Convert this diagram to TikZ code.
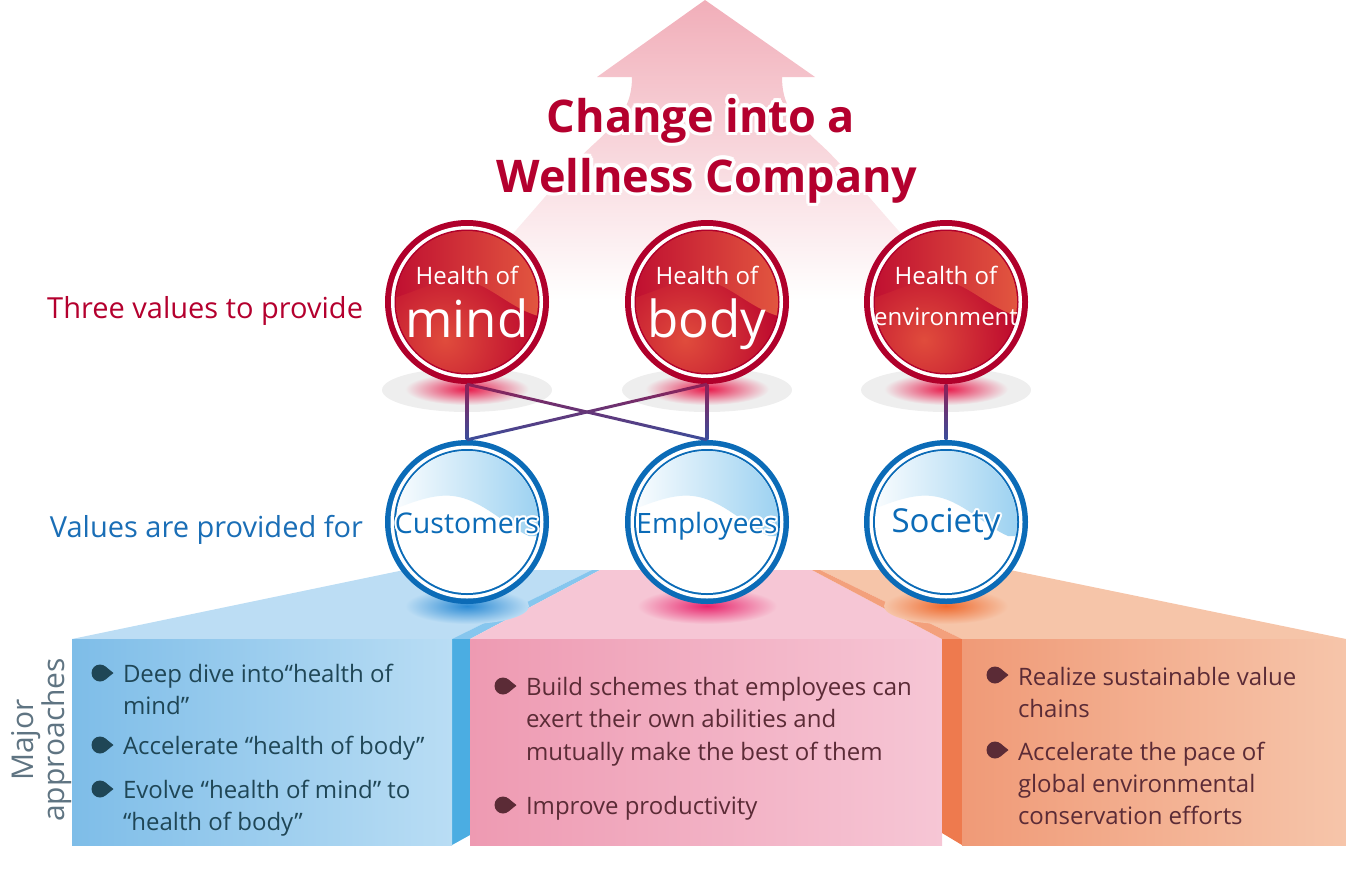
\documentclass[tikz,border=0pt]{standalone}
\usepackage{fontspec}
\setmainfont{Open Sans}
\usetikzlibrary{calc}
\definecolor{crim}{HTML}{B4002E}
\definecolor{ringred}{HTML}{B0002B}
\definecolor{ballred}{HTML}{B8002C}
\definecolor{ballhi}{HTML}{E04C3C}
\definecolor{swl}{HTML}{BE0C30}
\definecolor{swr}{HTML}{E45A40}
\definecolor{ringblue}{HTML}{0B6BB7}
\definecolor{labblue}{HTML}{1A6EB6}
\definecolor{swblue}{HTML}{97CFF0}
\definecolor{arrowtop}{HTML}{F1AEB9}
\definecolor{arrowmid}{HTML}{F5CCD3}
\definecolor{shadowgray}{HTML}{EEEEEE}
\definecolor{glowred}{HTML}{E8194A}
\definecolor{conntop}{HTML}{8E1F55}
\definecolor{connbot}{HTML}{3A4E9C}
\definecolor{bluefrontL}{HTML}{7EBDE8}
\definecolor{bluefrontR}{HTML}{B9DDF4}
\definecolor{bluetop}{HTML}{BCDDF4}
\definecolor{blueside}{HTML}{4BADE2}
\definecolor{blueband}{HTML}{86C6EE}
\definecolor{pinkfrontL}{HTML}{EE9AB2}
\definecolor{pinkfrontR}{HTML}{F6C6D5}
\definecolor{pinktop}{HTML}{F6C6D5}
\definecolor{orfrontL}{HTML}{F09A77}
\definecolor{orfrontR}{HTML}{F6C5AA}
\definecolor{ortop}{HTML}{F6C5A9}
\definecolor{orside}{HTML}{EE7A4E}
\definecolor{orband}{HTML}{F3A07C}
\definecolor{glowblue}{HTML}{2A8AD4}
\definecolor{glowpink}{HTML}{E8246C}
\definecolor{gloworange}{HTML}{EE6A2E}
\definecolor{txtblue}{HTML}{1F4656}
\definecolor{txtmaroon}{HTML}{5B2B36}
\definecolor{majgray}{HTML}{5F7482}

% white outline round a text: white copies set at small offsets behind it
\newcommand{\haloed}[3]{%
  \foreach \hang in {0,30,...,330}{%
    \pgfmathsetlengthmacro{\hdx}{#1*cos(\hang)}%
    \pgfmathsetlengthmacro{\hdy}{#1*sin(\hang)}%
    \rlap{\kern\hdx\raisebox{\hdy}{\textcolor{#2}{#3}}}%
  }%
  #3}

\newcommand{\redball}[2]{%
\begin{scope}[shift={(#1,#2)}]
  \fill[ringred] (0,0) circle[radius=82];
  \fill[white] (0,0) circle[radius=76];
  \fill[ringred] (0,0) circle[radius=72.5];
  \begin{scope}
    \clip (0,0) circle[radius=71];
    \shade[inner color=ballhi, outer color=ballred] (-22,38) circle[radius=105];
    \shade[left color=swl, right color=swr] (-80,-80) -- (-80,-2)
      .. controls (-45,-12) and (-25,-26) .. (-4,-22)
      .. controls (25,-18) and (45,10) .. (80,16) -- (80,-80) -- cycle;
  \end{scope}
\end{scope}}

\newcommand{\blueball}[2]{%
\begin{scope}[shift={(#1,#2)}]
  \fill[ringblue] (0,0) circle[radius=82];
  \fill[white] (0,0) circle[radius=76.5];
  \fill[ringblue] (0,0) circle[radius=73];
  \fill[white] (0,0) circle[radius=71];
  \begin{scope}
    \clip (0,0) circle[radius=71];
    \shade[left color=white, right color=swblue] (-80,-80) -- (-80,-10)
      .. controls (-50,-22) and (-32,-28) .. (-14,-26)
      .. controls (15,-23) and (40,5) .. (62,14)
      -- (80,14) -- (80,-80) -- cycle;
  \end{scope}
\end{scope}}

\newcommand{\dropbul}[3]{%
  \fill[#3] (#1,#2) circle[radius=8.5];
  \fill[#3] (#1+5.4,#2-6.55) -- (#1+13.5,#2) -- (#1+5.4,#2+6.55) -- cycle;}

% connector from node anchor #1 to node anchor #2, shaded from top to bottom
\newcommand{\gradconn}[2]{%
  \shade[top color=conntop, bottom color=connbot]
    ($(#1)!1.5pt!90:(#2)$) -- ($(#2)!1.5pt!-90:(#1)$) --
    ($(#2)!1.5pt!90:(#1)$) -- ($(#1)!1.5pt!-90:(#2)$) -- cycle;}

\tikzset{
  tx/.style={inner sep=0pt, outer sep=0pt},
  titletxt/.style={tx, font=\fontsize{45}{50}\selectfont\bfseries, text=crim, anchor=base},
  lab/.style={tx, font=\fontsize{29}{32}\selectfont, anchor=base east},
  hoftxt/.style={tx, font=\fontsize{24}{26}\selectfont, text=white, anchor=base},
  bigtxt/.style={tx, font=\fontsize{51}{54}\selectfont, text=white, anchor=base},
  envtxt/.style={tx, font=\fontsize{24}{28}\selectfont, text=white, anchor=base},
  bluetxt/.style={tx, text=ringblue, anchor=base},
  body/.style={tx, font=\fontsize{24}{30}\selectfont, anchor=base west},
  ball/.style={circle, minimum size=164pt, inner sep=0pt, draw=none},
}

\begin{document}
\begin{tikzpicture}[x=1pt,y=-1pt]
\useasboundingbox (0,0) rectangle (1346,871);

% big arrow
\shade[top color=arrowtop, middle color=arrowmid, bottom color=white]
  (705,0) -- (815,77) -- (782,77)
  .. controls (782,105) and (794,120) .. (819,143)
  .. controls (844,165) and (874,205) .. (934,270)
  -- (934,300) -- (480,300) -- (480,270)
  .. controls (540,205) and (570,165) .. (595,143)
  .. controls (620,120) and (632,105) .. (632,77)
  -- (597,77) -- cycle;

% title
\node[titletxt] (t1) at (701,132) {\haloed{3.5pt}{white}{Change into a}};
\node[titletxt] (t2) at (707,192) {\haloed{3.5pt}{white}{Wellness Company}};

% left labels
\node[lab, text=crim] (lab1) at (363,318) {Three values to provide};
\node[lab, text=labblue] (lab2) at (363,537) {Values are provided for};

% shadows under red balls
\foreach \xx in {467,707,946}{
  \fill[shadowgray] (\xx,390) ellipse[x radius=85, y radius=22];
  \shade[inner color=glowred, outer color=shadowgray] (\xx,389) ellipse[x radius=62, y radius=16];
}

% panels
% blue
\fill[bluetop] (72,639) -- (404,570) -- (592,570) -- (452,639) -- cycle;
\fill[blueband] (452,639) -- (592,570) -- (600,570) -- (470,639) -- cycle;
\fill[blueside] (452,639) -- (470,639) -- (470,835) -- (452,845) -- cycle;
\shade[left color=bluefrontL, right color=bluefrontR] (72,639) rectangle (452,845);
% pink
\fill[pinktop] (470,639) -- (600,570) -- (812,570) -- (942,639) -- cycle;
\shade[left color=pinkfrontL, right color=pinkfrontR] (470,639) rectangle (942,845);
% orange
\fill[ortop] (962,639) -- (820,570) -- (1010,570) -- (1346,639) -- cycle;
\fill[orband] (942,639) -- (812,570) -- (820,570) -- (962,639) -- cycle;
\fill[orside] (942,639) -- (962,639) -- (962,845) -- (942,833) -- cycle;
\shade[left color=orfrontL, right color=orfrontR] (962,639) rectangle (1346,845);

% glows under blue balls
\shade[inner color=glowblue, outer color=bluetop] (467,606) ellipse[x radius=62, y radius=18];
\shade[inner color=glowpink, outer color=pinktop] (707,606) ellipse[x radius=70, y radius=18];
\shade[inner color=gloworange, outer color=ortop] (946,606) ellipse[x radius=62, y radius=18];

% balls
\redball{467}{302}
\redball{707}{302}
\redball{946}{302}
\blueball{467}{522}
\blueball{707}{522}
\blueball{946}{522}

\node[ball] (mind) at (467,302) {};
\node[ball] (body) at (707,302) {};
\node[ball] (env) at (946,302) {};
\node[ball] (cust) at (467,522) {};
\node[ball] (empl) at (707,522) {};
\node[ball] (soc) at (946,522) {};

% connectors
\gradconn{mind.south}{cust.north}
\gradconn{mind.south}{empl.north}
\gradconn{body.south}{cust.north}
\gradconn{body.south}{empl.north}
\gradconn{env.south}{soc.north}

% ball texts
\node[hoftxt] (mindA) at (467,284) {Health of};
\node[bigtxt] (mindB) at (467,337) {mind};
\node[hoftxt] (bodyA) at (707,284) {Health of};
\node[bigtxt] (bodyB) at (707,337) {body};
\node[hoftxt] (envA) at (946,284) {Health of};
\node[envtxt] (envB) at (946,325) {environment};

\node[bluetxt, font=\fontsize{28.5}{32}\selectfont] (custT) at (467,533) {\haloed{2pt}{white}{Customers}};
\node[bluetxt, font=\fontsize{28}{32}\selectfont] (emplT) at (707,533) {\haloed{2pt}{white}{Employees}};
\node[bluetxt, font=\fontsize{33}{36}\selectfont] (socT) at (946,532) {\haloed{2pt}{white}{Society}};

% Major approaches
\node[tx, rotate=90, align=center, text=majgray, font=\fontsize{30}{25}\selectfont] (maj) at (42,740) {Major\\approaches};

% blue panel text
\dropbul{100}{673}{txtblue}
\dropbul{100}{745}{txtblue}
\dropbul{100}{789}{txtblue}
\node[body, text=txtblue] (c1a) at (123,682) {Deep dive into“health of};
\node[body, text=txtblue] (c1b) at (123,714) {mind”};
\node[body, text=txtblue] (c2) at (123,754) {Accelerate “health of body”};
\node[body, text=txtblue] (c3a) at (123,798) {Evolve “health of mind” to};
\node[body, text=txtblue] (c3b) at (123,830) {“health of body”};

% pink panel text
\dropbul{503}{686}{txtmaroon}
\dropbul{503}{805}{txtmaroon}
\node[body, text=txtmaroon] (e1a) at (526,695) {Build schemes that employees can};
\node[body, text=txtmaroon] (e1b) at (526,727) {exert their own abilities and};
\node[body, text=txtmaroon] (e1c) at (526,760) {mutually make the best of them};
\node[body, text=txtmaroon] (e2) at (526,814) {Improve productivity};

% orange panel text
\dropbul{995}{675}{txtmaroon}
\dropbul{995}{750}{txtmaroon}
\node[body, text=txtmaroon] (s1a) at (1018,685) {Realize sustainable value};
\node[body, text=txtmaroon] (s1b) at (1018,717) {chains};
\node[body, text=txtmaroon] (s2a) at (1018,760) {Accelerate the pace of};
\node[body, text=txtmaroon] (s2b) at (1018,792) {global environmental};
\node[body, text=txtmaroon] (s2c) at (1018,824) {conservation efforts};

\end{tikzpicture}
\end{document}
